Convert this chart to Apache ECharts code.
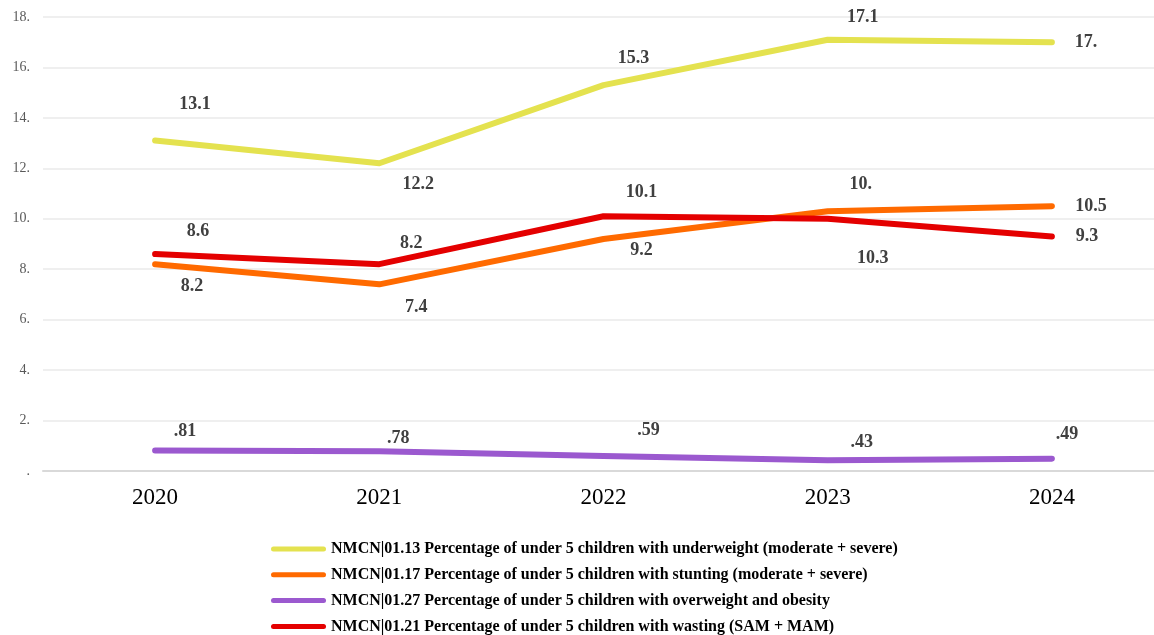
<!DOCTYPE html>
<html>
<head>
<meta charset="utf-8">
<script src="https://cdn.jsdelivr.net/npm/echarts@6/dist/echarts.min.js"></script>
<style>
  html, body { margin: 0; padding: 0; background: #fff; }
  #chart { width: 1154px; height: 635px; }
</style>
</head>
<body>
<div id="chart"></div>
<script>
// data
const years = ['2020', '2021', '2022', '2023', '2024'];
const underweight = [13.1, 12.2, 15.3, 17.1, 17.0];
const stunting = [8.2, 7.4, 9.2, 10.3, 10.5];
const overweight = [0.81, 0.78, 0.59, 0.43, 0.49];
const wasting = [8.6, 8.2, 10.1, 10.0, 9.3];
const yTicks = [0, 2, 4, 6, 8, 10, 12, 14, 16, 18];

const names = [
  'NMCN|01.13 Percentage of under 5 children with underweight (moderate + severe)',
  'NMCN|01.17 Percentage of under 5 children with stunting (moderate + severe)',
  'NMCN|01.27 Percentage of under 5 children with overweight and obesity',
  'NMCN|01.21 Percentage of under 5 children with wasting (SAM + MAM)'
];

// where each value label sits, relative to its point (px)
const shifts = [
  [[40, -36], [39, 21], [30, -27], [35, -22], [34, 0]],
  [[37, 22], [37, 23], [38, 11], [45, 47], [39, 0]],
  [[30, -19], [19, -13], [45, -26], [34, -18], [15, -24]],
  [[43, -23], [32, -21], [38, -24], [33, -34], [35, 0]]
];
const colors = ['#e4e24f', '#ff6a00', '#9b59cf', '#e40000'];
const FONT = '"Liberation Serif", "Times New Roman", serif';

// 17 -> "17.", 0.81 -> ".81", 0 -> "."
function fmt(v) {
  let s = String(v);
  if (s.indexOf('.') < 0) s += '.';
  if (s.indexOf('0.') === 0) s = s.slice(1);
  return s;
}

const chart = echarts.init(document.getElementById('chart'));

const series = [underweight, stunting, overweight, wasting].map((vals, i) => ({
  name: names[i],
  type: 'line',
  symbol: 'circle',
  symbolSize: 1,
  showSymbol: true,
  z: 2 + i,
  lineStyle: { width: 6, color: colors[i], cap: 'round', join: 'round' },
  itemStyle: { color: colors[i] },
  label: {
    show: true,
    position: 'inside',
    fontFamily: FONT,
    fontWeight: 'bold',
    fontSize: 18,
    color: '#404040',
    formatter: p => fmt(p.value)
  },
  emphasis: { disabled: true },
  data: vals.map((v, j) => ({ value: v, label: { offset: shifts[i][j] } })),
  animation: false
}));

chart.setOption({
  backgroundColor: '#fff',
  color: colors,
  grid: { left: 43, width: 1121, top: 17, height: 454, outerBoundsMode: 'none', containLabel: false },
  legend: {
    orient: 'vertical',
    left: 271,
    top: 541,
    padding: 0,
    itemWidth: 55,
    itemHeight: 5,
    itemGap: 9.8,
    icon: 'path://M2.5,0 H52.5 A2.5,2.5 0 0 1 52.5,5 H2.5 A2.5,2.5 0 0 1 2.5,0 Z',
    textStyle: { fontFamily: FONT, fontWeight: 'bold', fontSize: 16, color: '#000', lineHeight: 16 },
    data: names
  },
  xAxis: {
    type: 'category',
    data: years,
    boundaryGap: true,
    axisLine: { lineStyle: { color: '#d9d9d9', width: 2 } },
    axisTick: { show: false },
    axisLabel: { fontFamily: FONT, fontSize: 23, color: '#000', margin: 15 }
  },
  yAxis: {
    type: 'value',
    min: yTicks[0],
    max: yTicks[yTicks.length - 1],
    interval: 2,
    axisLine: { show: false },
    axisTick: { show: false },
    axisLabel: { fontFamily: FONT, fontSize: 14, color: '#595959', margin: 13, formatter: v => fmt(v) },
    splitLine: { lineStyle: { color: '#efefef', width: 2 } }
  },
  series: series
});
</script>
</body>
</html>
